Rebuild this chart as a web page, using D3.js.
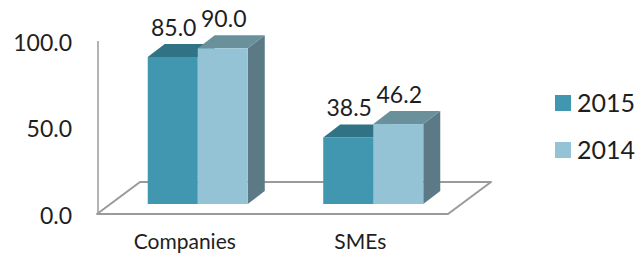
<!DOCTYPE html>
<html>
<head>
<meta charset="utf-8">
<script src="https://cdn.jsdelivr.net/npm/d3@7"></script>
<style>
  html, body { margin: 0; padding: 0; background: #fff; }
</style>
</head>
<body>
<div id="chart-area"></div>
<script>
const categories = ['Companies', 'SMEs'];
const series = ['2015', '2014'];
const values2015 = [85.0, 38.5];
const values2014 = [90.0, 46.2];
const yTicks = [0, 50, 100];

const svgWidth = 643, svgHeight = 255;
const font = 'Lato, "Open Sans", sans-serif';
const textColor = '#1e1e1e';

const svg = d3.select('#chart-area')
  .append('svg')
    .attr('width', svgWidth)
    .attr('height', svgHeight);

// front plane of the 3d box
const yScale = d3.scaleLinear().domain([0, 100]).range([214, 41]);
const x0 = d3.scaleBand().domain(categories).range([97, 448])
  .paddingInner(0.43).paddingOuter(0.215);
const x1 = d3.scaleBand().domain(series).range([0, x0.bandwidth()]);

// oblique offsets
const floorDx = 43, floorDy = -32;
const barOx = 13, barOy = -10;   // bars sit a bit behind the front plane
const barDx = 17, barDy = -13;   // bar depth

const colors = {
  '2015': { front: '#4196b0', top: '#2f7384', side: '#2f6f80' },
  '2014': { front: '#93c3d4', top: '#6a909c', side: '#5b7a85' }
};

// floor
const [fx0, fx1] = x0.range();
const fy = yScale(0);
svg.append('polygon')
  .attr('points', [[fx0, fy], [fx1, fy], [fx1 + floorDx, fy + floorDy], [fx0 + floorDx, fy + floorDy]].join(' '))
  .attr('fill', '#fff')
  .attr('stroke', '#9a9a9a')
  .attr('stroke-width', 2)
  .attr('stroke-linejoin', 'round');

// vertical axis line
svg.append('line')
  .attr('x1', 98).attr('x2', 98)
  .attr('y1', yScale(100)).attr('y2', yScale(0))
  .attr('stroke', '#9a9a9a')
  .attr('stroke-width', 1.5);

// y tick labels
const yAxis = svg.append('g')
  .attr('transform', 'translate(74,2)')
  .call(d3.axisLeft(yScale).tickValues(yTicks).tickFormat(d3.format('.1f')).tickSize(0).tickPadding(2));
yAxis.select('.domain').remove();
yAxis.selectAll('text')
  .attr('font-family', font)
  .attr('font-size', 23)
  .attr('fill', textColor);

// category labels
const xAxis = svg.append('g')
  .attr('transform', 'translate(0,232)')
  .call(d3.axisBottom(x0).tickSize(0).tickPadding(2));
xAxis.select('.domain').remove();
xAxis.selectAll('text')
  .attr('font-family', font)
  .attr('font-size', 21)
  .attr('fill', textColor);

// bars
const rows = [];
categories.forEach((c, i) => {
  rows.push({ cat: c, s: '2015', v: values2015[i] });
  rows.push({ cat: c, s: '2014', v: values2014[i] });
});

const bars = svg.selectAll('g.bar')
  .data(rows)
  .enter()
  .append('g')
    .attr('class', 'bar');

const geo = d => {
  const x = x0(d.cat) + x1(d.s) + barOx;
  const y = yScale(d.v) + barOy;
  const w = x1.bandwidth();
  const yb = yScale(0) + barOy;
  return { x, y, w, yb };
};

bars.append('polygon')
  .attr('points', d => {
    const g = geo(d);
    return [[g.x + g.w, g.y], [g.x + g.w + barDx, g.y + barDy], [g.x + g.w + barDx, g.yb + barDy], [g.x + g.w, g.yb]].join(' ');
  })
  .attr('fill', d => colors[d.s].side);

bars.append('polygon')
  .attr('points', d => {
    const g = geo(d);
    return [[g.x, g.y], [g.x + g.w, g.y], [g.x + g.w + barDx, g.y + barDy], [g.x + barDx, g.y + barDy]].join(' ');
  })
  .attr('fill', d => colors[d.s].top);

bars.append('rect')
  .attr('x', d => geo(d).x)
  .attr('y', d => geo(d).y)
  .attr('width', x1.bandwidth())
  .attr('height', d => geo(d).yb - geo(d).y)
  .attr('fill', d => colors[d.s].front);

bars.append('text')
  .text(d => d.v.toFixed(1))
  .attr('x', d => geo(d).x + x1.bandwidth() / 2 + 1)
  .attr('y', d => geo(d).y - 21)
  .attr('text-anchor', 'middle')
  .attr('font-family', font)
  .attr('font-size', 23)
  .attr('fill', textColor);

// legend
const legend = svg.selectAll('g.legend')
  .data(series)
  .enter()
  .append('g')
    .attr('class', 'legend')
    .attr('transform', (d, i) => `translate(555,${95 + i * 47})`);

legend.append('rect')
  .attr('width', 16)
  .attr('height', 16)
  .attr('fill', d => colors[d].front);

legend.append('text')
  .text(d => d)
  .attr('x', 22)
  .attr('y', 17)
  .attr('font-family', font)
  .attr('font-size', 25)
  .attr('fill', textColor);
</script>
</body>
</html>
